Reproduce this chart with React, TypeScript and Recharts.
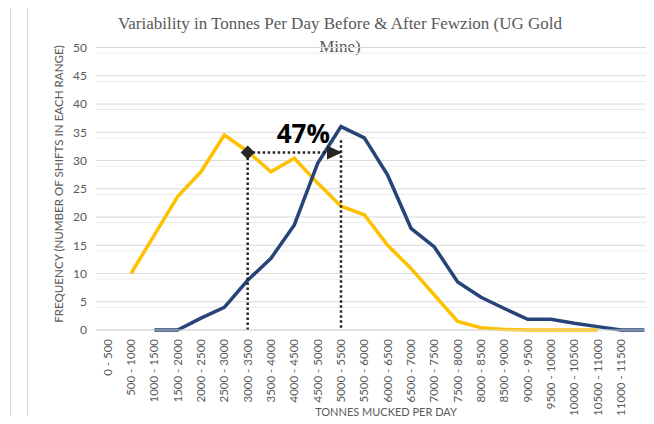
import React from 'react';
import { LineChart, Line, XAxis, YAxis, CartesianGrid, ReferenceLine, ReferenceDot } from 'recharts';

// tonnes ranges (last slot has no label in the source chart)
const categories = [
  '0 - 500', '500 - 1000', '1000 - 1500', '1500 - 2000', '2000 - 2500', '2500 - 3000',
  '3000 - 3500', '3500 - 4000', '4000 - 4500', '4500 - 5000', '5000 - 5500', '5500 - 6000',
  '6000 - 6500', '6500 - 7000', '7000 - 7500', '7500 - 8000', '8000 - 8500', '8500 - 9000',
  '9000 - 9500', '9500 - 10000', '10000 - 10500', '10500 - 11000', '11000 - 11500', '',
];

// shifts per range before Fewzion (gold line)
const beforeValues = [
  null, 10, 16.8, 23.6, 28, 34.5, 31.6, 28, 30.4, 26, 21.9, 20.4,
  15, 10.9, 6.2, 1.5, 0.4, 0.1, 0, 0, 0, 0, null, null,
];

// shifts per range after Fewzion (blue line)
const afterValues = [
  null, null, 0, 0, 2.1, 4, 8.8, 12.7, 18.6, 29.5, 36, 34,
  27.4, 18, 14.7, 8.5, 5.8, 3.8, 1.9, 1.9, 1.2, 0.6, 0, 0,
];

const yTicks = [0, 5, 10, 15, 20, 25, 30, 35, 40, 45, 50];
const minorTicks = Array.from({ length: 51 }, (_, i) => i).filter((v) => v % 5 !== 0);

const arrowLevel = 31.4;
const arrowTop = 33.6;
const improvement = '47%';

const data = categories.map((range, i) => ({
  range,
  before: beforeValues[i],
  after: afterValues[i],
}));

const GREY = '#595959';
const DOT = '#262626';
const SANS = "Lato, 'Open Sans', sans-serif";

const XTick = (props: any) => {
  const { x, payload } = props;
  return (
    <g transform={`translate(${x + 4},339) rotate(-90)`}>
      <text x={0} y={0} textAnchor="end" fill={GREY} fontSize={11.5} fontFamily={SANS}>
        {payload.value}
      </text>
    </g>
  );
};

const Diamond = (props: any) => {
  const { cx, cy } = props;
  const s = 7;
  return <polygon points={`${cx},${cy - s} ${cx + s},${cy} ${cx},${cy + s} ${cx - s},${cy}`} fill={DOT} />;
};

const ArrowHead = (props: any) => {
  const { cx, cy } = props;
  return <polygon points={`${cx + 1},${cy} ${cx - 14},${cy - 7} ${cx - 14},${cy + 7}`} fill={DOT} />;
};

const PctLabel = (props: any) => {
  const { cx, cy } = props;
  return (
    <text x={cx + 9} y={cy} textAnchor="middle" fontSize={26} fontWeight="bold" fill="#000"
      fontFamily="'Open Sans', Lato, sans-serif">
      {improvement}
    </text>
  );
};

export default function App() {
  return (
    <div style={{ position: 'relative', width: 654, height: 424, margin: -8, overflow: 'hidden', background: '#fff' }}>
      {/* frame edges */}
      <div style={{ position: 'absolute', left: 0, top: 3, width: 10, height: 440, borderTop: '1px solid #d9d9d9', borderRight: '1px solid #d9d9d9' }} />
      <div style={{ position: 'absolute', left: 27, top: 2, width: 700, height: 440, border: '1px solid #d9d9d9' }} />

      <div style={{
        position: 'absolute', left: 60, width: 560, top: 12, textAlign: 'center',
        fontFamily: "'Liberation Serif', serif", fontSize: 17, lineHeight: '23px', color: GREY,
      }}>
        Variability in Tonnes Per Day Before &amp; After Fewzion (UG Gold<br />Mine)
      </div>

      <div style={{
        position: 'absolute', left: 58, top: 184, transform: 'translate(-50%, -50%) rotate(-90deg)',
        whiteSpace: 'nowrap', fontFamily: SANS, fontSize: 11.6, color: GREY,
      }}>
        FREQUENCY (NUMBER OF SHIFTS IN EACH RANGE)
      </div>

      <div style={{
        position: 'absolute', left: 386, top: 411, transform: 'translate(-50%, -50%)',
        whiteSpace: 'nowrap', fontFamily: SANS, fontSize: 11, color: GREY,
      }}>
        TONNES MUCKED PER DAY
      </div>

      <div style={{ position: 'absolute', left: 0, top: 0 }}>
        <LineChart width={660} height={424} data={data} margin={{ top: 47.5, right: 4, bottom: 0, left: 0 }}>
          <CartesianGrid vertical={false} horizontalValues={minorTicks} stroke="#ebebeb" />
          <CartesianGrid vertical={false} stroke="#d9d9d9" />
          <XAxis
            dataKey="range"
            scale="band"
            interval={0}
            height={94}
            tickLine={false}
            axisLine={{ stroke: '#d9d9d9' }}
            tick={<XTick />}
          />
          <YAxis
            width={96}
            domain={[0, 50]}
            ticks={yTicks}
            tickLine={false}
            axisLine={false}
            tickSize={0}
            tickMargin={9}
            tick={{ fill: GREY, fontSize: 12, fontFamily: SANS }}
          />
          <Line dataKey="before" stroke="#ffc000" strokeWidth={3.5} dot={false} isAnimationActive={false} strokeLinejoin="miter" />
          <Line dataKey="after" stroke="#264478" strokeWidth={3.5} dot={false} isAnimationActive={false} strokeLinejoin="miter" />
          <ReferenceLine segment={[{ x: categories[6], y: arrowLevel }, { x: categories[6], y: 0 }]}
            stroke={DOT} strokeWidth={2.5} strokeDasharray="2.5 2.5" />
          <ReferenceLine segment={[{ x: categories[10], y: arrowTop }, { x: categories[10], y: 0 }]}
            stroke={DOT} strokeWidth={2.5} strokeDasharray="2.5 2.5" />
          <ReferenceLine segment={[{ x: categories[6], y: arrowLevel }, { x: categories[10], y: arrowLevel }]}
            stroke={DOT} strokeWidth={2.5} strokeDasharray="2.5 2.5" />
          <ReferenceDot x={categories[6]} y={arrowLevel} shape={<Diamond />} />
          <ReferenceDot x={categories[10]} y={arrowLevel} shape={<ArrowHead />} />
          <ReferenceDot x={categories[8]} y={33.1} shape={<PctLabel />} />
        </LineChart>
      </div>
    </div>
  );
}
